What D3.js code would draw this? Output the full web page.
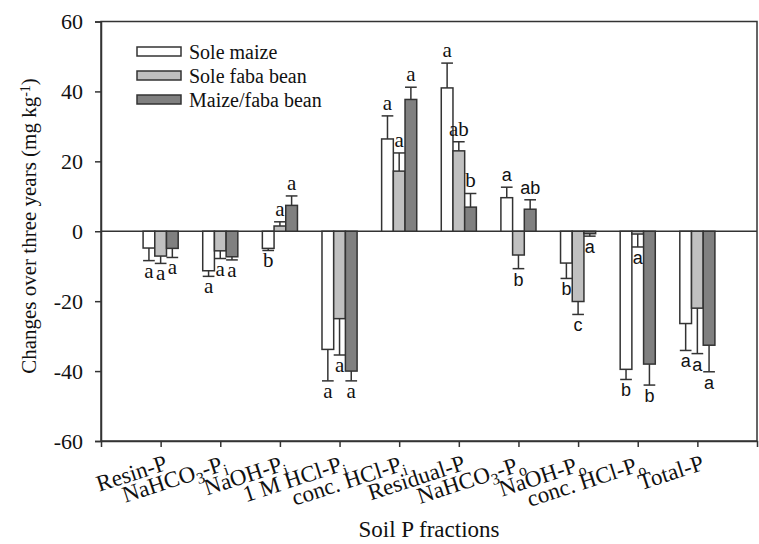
<!DOCTYPE html>
<html><head><meta charset="utf-8">
<script src="https://cdn.jsdelivr.net/npm/d3@7/dist/d3.min.js"></script>
<style>body{margin:0;background:#fff}svg{display:block}</style>
</head><body>
<svg id="chart" width="759" height="544"></svg>
<script>
// ---- data ----
const categories = [
  [["Resin-P",""]],
  [["NaHCO",""],["3","sub"],["-P",""],["i","sub"]],
  [["NaOH-P",""],["i","sub"]],
  [["1 M HCl-P",""],["i","sub"]],
  [["conc. HCl-P",""],["i","sub"]],
  [["Residual-P",""]],
  [["NaHCO",""],["3","sub"],["-P",""],["o","sub"]],
  [["NaOH-P",""],["o","sub"]],
  [["conc. HCl-P",""],["o","sub"]],
  [["Total-P",""]]
];
const seriesNames = ["Sole maize","Sole faba bean","Maize/faba bean"];
const seriesColors = ["#ffffff","#c0c0c0","#808080"];
const maize    = [-4.8,-11.3,-4.9,-33.8,26.4,41.0,9.6,-9.1,-39.5,-26.4];
const maizeErr = [3.6,1.6,0.6,9.0,6.6,7.1,3.0,4.4,2.9,7.7];
const faba     = [-7.1,-5.6,1.5,-25.0,17.2,23.0,-6.8,-20.1,-0.8,-22.0];
const fabaErr  = [2.1,2.2,1.2,10.4,5.2,2.6,3.9,3.7,3.7,13.0];
const inter    = [-4.9,-7.3,7.4,-40.0,37.7,6.9,6.3,-0.7,-38.0,-32.6];
const interErr = [2.6,0.9,2.7,2.8,3.5,3.9,2.7,0.7,6.0,7.6];
const maizeLetters = ["a","a","b","a","a","a","a","b","b","a"];
const fabaLetters  = ["a","a","a","a","a","ab","b","c","a","a"];
const interLetters = ["a","a","a","a","a","b","ab","a","b","a"];
const yTicks = [-60,-40,-20,0,20,40,60];

const series = [
  {vals:maize, errs:maizeErr, letters:maizeLetters},
  {vals:faba, errs:fabaErr, letters:fabaLetters},
  {vals:inter, errs:interErr, letters:interLetters}
];

// ---- layout ----
const L=101, R=757, T=21.5, B=441;
const svg=d3.select("#chart");
const serif="'Liberation Serif','Times New Roman',serif";
const sans="'Liberation Sans',Arial,sans-serif";
const ink="#333";

const y=d3.scaleLinear().domain([-60,60]).range([B,T]);
const x=d3.scaleLinear().domain([0,categories.length+1]).range([L,R]);
const bw=11.7;

// frame
svg.append("rect").attr("x",L).attr("y",T).attr("width",R-L).attr("height",B-T)
  .attr("fill","none").attr("stroke",ink).attr("stroke-width",1.5);

// y axis
const yAxis=d3.axisLeft(y).tickValues(yTicks).tickSize(6).tickPadding(12).tickFormat(d=>String(d));
const gy=svg.append("g").attr("transform",`translate(${L},0)`).call(yAxis);
gy.select(".domain").attr("stroke",ink).attr("stroke-width",1.5);
gy.selectAll(".tick line").attr("stroke",ink).attr("stroke-width",1.5);
gy.selectAll(".tick text").attr("font-family",serif).attr("font-size",22).attr("fill","#111");

// x axis
const xAxis=d3.axisBottom(x).tickValues(d3.range(1,categories.length+1)).tickSize(6).tickFormat("");
const gx=svg.append("g").attr("transform",`translate(0,${B})`).call(xAxis);
gx.select(".domain").attr("stroke",ink).attr("stroke-width",1.5);
gx.selectAll(".tick line").attr("stroke",ink).attr("stroke-width",1.5);

// x labels
categories.forEach((parts,i)=>{
  const t=svg.append("text")
    .attr("transform",`translate(${x(i+1)+3},${B+13}) rotate(-18)`)
    .attr("text-anchor","end").attr("font-family",serif).attr("font-size",23).attr("fill","#111")
    .attr("dy","0.7em");
  parts.forEach(p=>{
    const s=t.append("tspan").text(p[0]);
    if(p[1]==="sub"){s.attr("font-size",16).attr("baseline-shift","-30%");}
  });
});

// zero line
svg.append("line").attr("x1",L).attr("x2",R).attr("y1",y(0)).attr("y2",y(0))
  .attr("stroke",ink).attr("stroke-width",1.5);

// bars
series.forEach((s,k)=>{
  const g=svg.append("g");
  s.vals.forEach((v,i)=>{
    const cx=x(i+1)+(k-1)*bw;
    const x0=cx-bw/2;
    const top=Math.min(y(v),y(0)), h=Math.abs(y(v)-y(0));
    g.append("rect").attr("x",x0).attr("y",top).attr("width",bw).attr("height",Math.max(h,0.5))
      .attr("fill",seriesColors[k]).attr("stroke",ink).attr("stroke-width",1.5);
    const e=v>=0? v+s.errs[i] : v-s.errs[i];
    g.append("line").attr("x1",cx).attr("x2",cx).attr("y1",y(v)).attr("y2",y(e))
      .attr("stroke",ink).attr("stroke-width",1.5);
    g.append("line").attr("x1",cx-bw/2).attr("x2",cx+bw/2).attr("y1",y(e)).attr("y2",y(e))
      .attr("stroke",ink).attr("stroke-width",1.5);
    const useSans=i>=6;
    const ly=v>=0? y(e)-6 : y(e)+17;
    g.append("text").attr("x",cx).attr("y",ly).attr("text-anchor","middle")
      .attr("font-family",useSans?sans:serif).attr("font-size",useSans?18:21).attr("fill","#111")
      .text(s.letters[i]);
  });
});

// legend
seriesNames.forEach((n,k)=>{
  const cy=51.5+k*24;
  svg.append("rect").attr("x",137).attr("y",cy-4.5).attr("width",44).attr("height",9)
    .attr("fill",seriesColors[k]).attr("stroke",ink).attr("stroke-width",1.5);
  svg.append("text").attr("x",189).attr("y",cy).attr("dy","0.35em")
    .attr("font-family",serif).attr("font-size",20).attr("fill","#111").text(n);
});

// axis titles
svg.append("text").attr("x",429).attr("y",537).attr("text-anchor","middle")
  .attr("font-family",serif).attr("font-size",23).attr("fill","#111").text("Soil P fractions");
const yt=svg.append("text").attr("transform",`translate(36,226) rotate(-90)`)
  .attr("text-anchor","middle").attr("font-family",serif).attr("font-size",21).attr("fill","#111");
yt.append("tspan").text("Changes over three years (mg kg");
yt.append("tspan").text("-1").attr("font-size",14).attr("baseline-shift","40%");
yt.append("tspan").text(")");
</script>
</body></html>
